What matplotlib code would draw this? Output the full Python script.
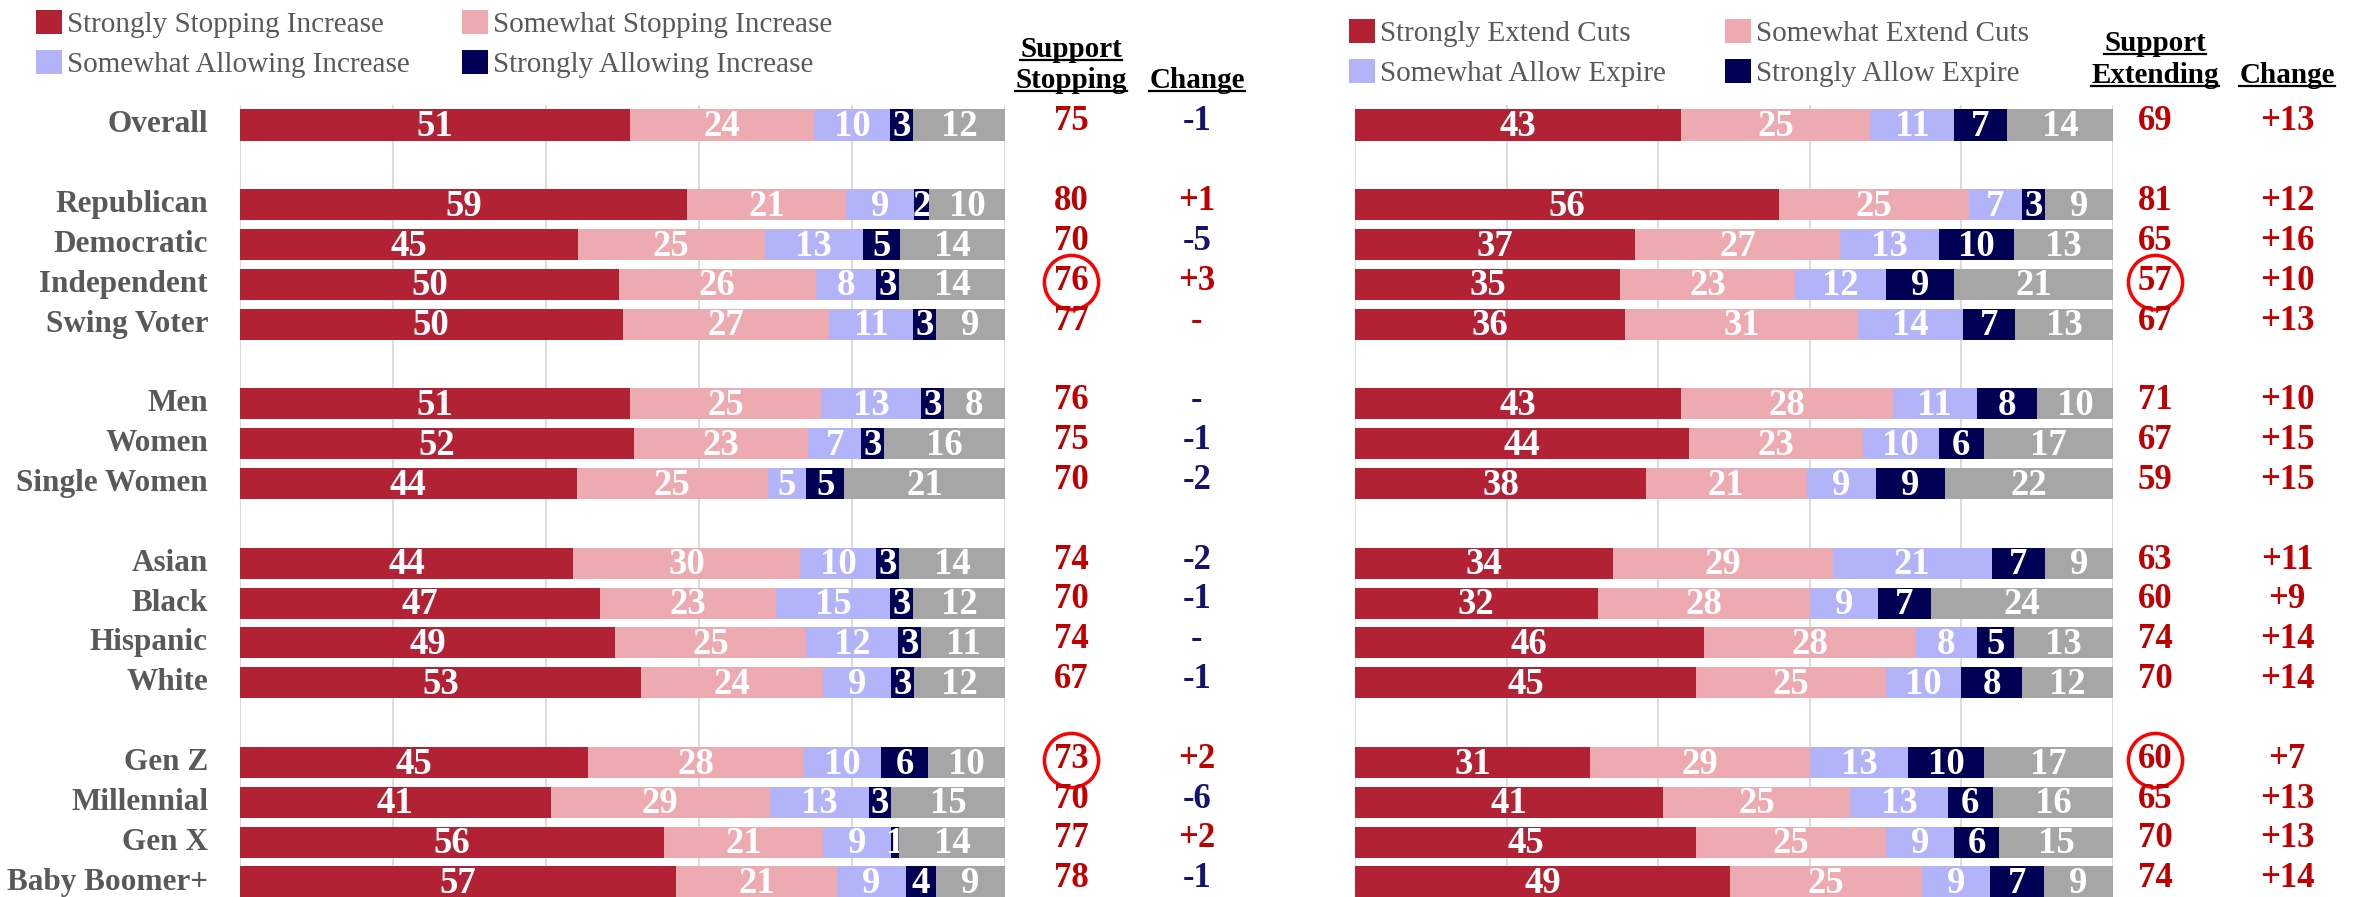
import matplotlib.pyplot as plt
from matplotlib.patches import Patch
from matplotlib.lines import Line2D
from matplotlib.transforms import blended_transform_factory
import numpy as np

plt.rcParams['font.family'] = ['Liberation Serif', 'DejaVu Serif']

W, H = 2359, 897

# data
categories = ['Overall',
              'Republican', 'Democratic', 'Independent', 'Swing Voter',
              'Men', 'Women', 'Single Women',
              'Asian', 'Black', 'Hispanic', 'White',
              'Gen Z', 'Millennial', 'Gen X', 'Baby Boomer+']
group_sizes = [1, 4, 3, 4, 4]

stop_labels = ['Strongly Stopping Increase', 'Somewhat Stopping Increase',
               'Somewhat Allowing Increase', 'Strongly Allowing Increase']
stop_strong = [51, 59, 45, 50, 50, 51, 52, 44, 44, 47, 49, 53, 45, 41, 56, 57]
stop_somewhat = [24, 21, 25, 26, 27, 25, 23, 25, 30, 23, 25, 24, 28, 29, 21, 21]
stop_allow_some = [10, 9, 13, 8, 11, 13, 7, 5, 10, 15, 12, 9, 10, 13, 9, 9]
stop_allow_strong = [3, 2, 5, 3, 3, 3, 3, 5, 3, 3, 3, 3, 6, 3, 1, 4]
stop_unsure = [12, 10, 14, 14, 9, 8, 16, 21, 14, 12, 11, 12, 10, 15, 14, 9]
stop_support = [75, 80, 70, 76, 77, 76, 75, 70, 74, 70, 74, 67, 73, 70, 77, 78]
stop_change = ['-1', '+1', '-5', '+3', '-', '-', '-1', '-2',
               '-2', '-1', '-', '-1', '+2', '-6', '+2', '-1']
stop_circled = ['Independent', 'Gen Z']

ext_labels = ['Strongly Extend Cuts', 'Somewhat Extend Cuts',
              'Somewhat Allow Expire', 'Strongly Allow Expire']
ext_strong = [43, 56, 37, 35, 36, 43, 44, 38, 34, 32, 46, 45, 31, 41, 45, 49]
ext_somewhat = [25, 25, 27, 23, 31, 28, 23, 21, 29, 28, 28, 25, 29, 25, 25, 25]
ext_allow_some = [11, 7, 13, 12, 14, 11, 10, 9, 21, 9, 8, 10, 13, 13, 9, 9]
ext_allow_strong = [7, 3, 10, 9, 7, 8, 6, 9, 7, 7, 5, 8, 10, 6, 6, 7]
ext_unsure = [14, 9, 13, 21, 13, 10, 17, 22, 9, 24, 13, 12, 17, 16, 15, 9]
ext_support = [69, 81, 65, 57, 67, 71, 67, 59, 63, 60, 74, 70, 60, 65, 70, 74]
ext_change = ['+13', '+12', '+16', '+10', '+13', '+10', '+15', '+15',
              '+11', '+9', '+14', '+14', '+7', '+13', '+13', '+14']
ext_circled = ['Independent', 'Gen Z']

colors = ['#B22234', '#EDAAB0', '#B3B3FA', '#000055', '#A6A6A6']
red = '#C00000'
navy = '#14146E'
gray_txt = '#595959'

rows = []
y = 0
for g in group_sizes:
    rows.extend(range(y, y + g))
    y += g + 1
rows = np.array(rows)

fig = plt.figure(figsize=(W / 100, H / 100), dpi=100)

# rows 0..19 -> pixel 125..882
row_px = 39.85
top_px = 125 - 0.5 * row_px
bot_px = 882 + 0.5 * row_px
ax_y = (H - bot_px) / H
ax_h = (bot_px - top_px) / H


def draw_panel(x0, x1, series, support, change, circled, sup_x, chg_x):
    ax = fig.add_axes([x0 / W, ax_y, (x1 - x0) / W, ax_h])
    data = np.array(series, dtype=float)
    widths = data / data.sum(axis=0) * 100
    lefts = np.zeros(len(categories))
    for j in range(len(series)):
        ax.barh(rows, widths[j], left=lefts, height=0.78, color=colors[j],
                zorder=2 + 2 * j)
        for r, l, w, v in zip(rows, lefts, widths[j], series[j]):
            ax.text(l + w / 2, r + 0.04, str(v), ha='center', va='center',
                    color='white', fontsize=26.5, fontweight='bold',
                    zorder=3 + 2 * j)
        lefts = lefts + widths[j]
    ax.set_xlim(0, 100)
    ax.set_ylim(19.5, -0.5)
    ax.set_xticks([0, 20, 40, 60, 80, 100])
    ax.set_yticks([])
    ax.tick_params(length=0, labelbottom=False)
    ax.grid(axis='x', color='#D9D9D9', lw=1.3, zorder=0)
    for s in ax.spines.values():
        s.set_visible(False)

    tr = blended_transform_factory(fig.transFigure, ax.transData)
    for r, cat, s, c in zip(rows, categories, support, change):
        ax.text(sup_x / W, r - 0.08, str(s), transform=tr, ha='center',
                va='center', color=red, fontsize=25, fontweight='bold')
        ccol = red if c.startswith('+') else navy
        if c == '-' and cat == 'Swing Voter':
            ccol = red
        ax.text(chg_x / W, r - 0.08, c, transform=tr, ha='center',
                va='center', color=ccol, fontsize=25, fontweight='bold')
        if cat in circled:
            ax.plot([sup_x / W], [r - 0.05], transform=tr, marker='o',
                    ms=39, mfc='none', mec='#FF0000', mew=2.5, clip_on=False)
    return ax


axL = draw_panel(240, 1005,
                 [stop_strong, stop_somewhat, stop_allow_some,
                  stop_allow_strong, stop_unsure],
                 stop_support, stop_change, stop_circled, 1071, 1197)
axR = draw_panel(1355, 2113,
                 [ext_strong, ext_somewhat, ext_allow_some,
                  ext_allow_strong, ext_unsure],
                 ext_support, ext_change, ext_circled, 2155, 2287)

# row labels
trL = blended_transform_factory(fig.transFigure, axL.transData)
for r, cat in zip(rows, categories):
    axL.text(208 / W, r, cat, transform=trL, ha='right', va='center',
             color=gray_txt, fontsize=22.5, fontweight='bold')

# legends, one per column
def add_legend(labels, cols, x, y):
    handles = [Patch(facecolor=c, edgecolor='none') for c in cols]
    fig.legend(handles, labels, loc='center left',
               bbox_to_anchor=(x / W, 1 - y / H), frameon=False,
               fontsize=21, labelcolor=gray_txt, handlelength=0.9,
               handleheight=0.9, handletextpad=0.15, labelspacing=0.38,
               borderpad=0, borderaxespad=0)

add_legend([stop_labels[0], stop_labels[2]], [colors[0], colors[2]], 36, 44)
add_legend([stop_labels[1], stop_labels[3]], [colors[1], colors[3]], 462, 44)
add_legend([ext_labels[0], ext_labels[2]], [colors[0], colors[2]], 1349, 53)
add_legend([ext_labels[1], ext_labels[3]], [colors[1], colors[3]], 1725, 53)

# underlined headers
headers = [('Support', 1071, 57), ('Stopping', 1071, 88), ('Change', 1197, 88),
           ('Support', 2155, 51), ('Extending', 2155, 83), ('Change', 2287, 83)]
htexts = []
for txt, hx, hy in headers:
    t = fig.text(hx / W, 1 - hy / H, txt, ha='center', va='baseline',
                 fontsize=21, fontweight='bold', color='black')
    htexts.append(t)

fig.canvas.draw()
renderer = fig.canvas.get_renderer()
for t in htexts:
    bb = t.get_window_extent(renderer)
    base = t.get_position()[1] * H - 3
    fig.add_artist(Line2D([bb.x0 / W, bb.x1 / W], [base / H, base / H],
                          transform=fig.transFigure, color='black', lw=1.6))

fig.savefig('out.png', dpi=100, facecolor='white')
